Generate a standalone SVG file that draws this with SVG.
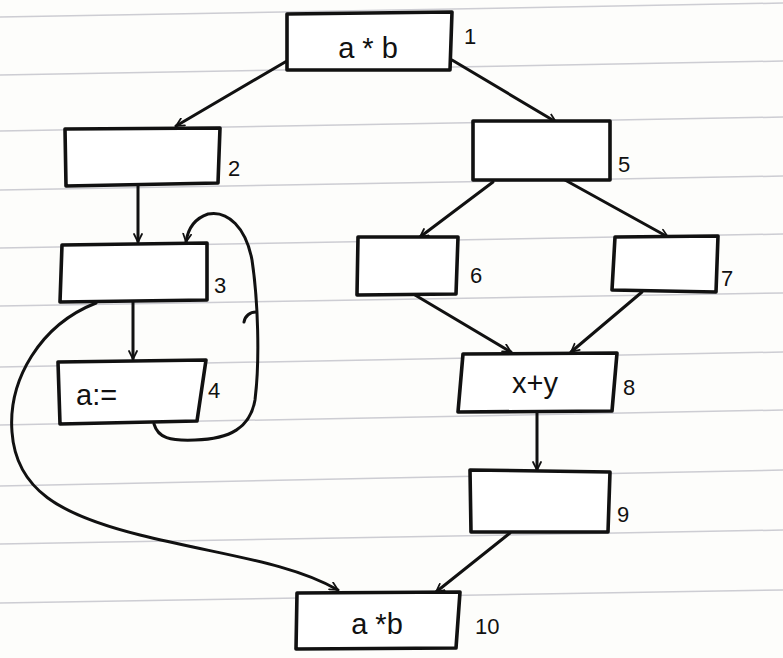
<svg xmlns="http://www.w3.org/2000/svg" width="783" height="658" viewBox="0 0 783 658">
<defs>
<style>
.box{fill:#ffffff;stroke:#111;stroke-width:3.6;stroke-linejoin:round}
.edge{fill:none;stroke:#111;stroke-width:3;stroke-linecap:round}
.txt{font-family:"Liberation Sans","DejaVu Sans",sans-serif;font-size:29px;fill:#111}
.lbl{font-family:"Liberation Sans","DejaVu Sans",sans-serif;font-size:22px;fill:#111}
.rule{stroke:#b4b4be;stroke-width:1.5;opacity:0.65}
</style>
<marker id="ah" viewBox="0 0 20 20" refX="18" refY="10" markerWidth="10" markerHeight="10" markerUnits="userSpaceOnUse" orient="auto">
<polyline points="2,2 18,10 2,18" fill="none" stroke="#111" stroke-width="3.5" stroke-linecap="round" stroke-linejoin="round"/>
</marker>
</defs>
<rect width="783" height="658" fill="#fdfdfb"/>
<g id="rules">
<line class="rule" x1="0" y1="17" x2="783" y2="3"/>
<line class="rule" x1="0" y1="75" x2="783" y2="61"/>
<line class="rule" x1="0" y1="131" x2="783" y2="117"/>
<line class="rule" x1="0" y1="190" x2="783" y2="176"/>
<line class="rule" x1="0" y1="248" x2="783" y2="234"/>
<line class="rule" x1="0" y1="306" x2="783" y2="293"/>
<line class="rule" x1="0" y1="367" x2="783" y2="352"/>
<line class="rule" x1="0" y1="425" x2="783" y2="410"/>
<line class="rule" x1="0" y1="486" x2="783" y2="470"/>
<line class="rule" x1="0" y1="544" x2="783" y2="530"/>
<line class="rule" x1="0" y1="603" x2="783" y2="590"/>
</g>
<g id="connectors">
<path class="edge" d="M292,58 L176,126" marker-end="url(#ah)"/>
<path class="edge" d="M452,60 L556,122" marker-end="url(#ah)"/>
<path class="edge" d="M138,186 L138,242" marker-end="url(#ah)"/>
<path class="edge" d="M133,302 L133,359" marker-end="url(#ah)"/>
<path class="edge" d="M154,424 C158,438 170,441 195,440 C230,439 250,428 255,400 C260,360 258,300 252,260 C246,228 228,210 208,214 C196,218 188,228 186,242" marker-end="url(#ah)"/>
<path class="edge" d="M244,322 C245,316 250,312 256,312"/>
<path class="edge" d="M96,303 C40,325 8,380 12,432 C16,490 60,515 140,535 C220,555 290,562 338,590" marker-end="url(#ah)"/>
<path class="edge" d="M493,182 L420,237" marker-end="url(#ah)"/>
<path class="edge" d="M565,180 L668,237" marker-end="url(#ah)"/>
<path class="edge" d="M415,295 L511,352" marker-end="url(#ah)"/>
<path class="edge" d="M642,292 L571,352" marker-end="url(#ah)"/>
<path class="edge" d="M537,412 L537,470" marker-end="url(#ah)"/>
<path class="edge" d="M510,533 L436,592" marker-end="url(#ah)"/>
</g>
<g id="node1">
<path class="box" d="M287,14 L452,12 L450,70 L287,70 Z"/>
<text class="txt" x="368" y="58" text-anchor="middle">a * b</text>
<text class="lbl" x="464" y="44">1</text>
</g>
<g id="node2">
<path class="box" d="M65,129 L220,128 L218,183 L66,186 Z"/>
<text class="lbl" x="228" y="176">2</text>
</g>
<g id="node3">
<path class="box" d="M62,245 L207,243 L207,300 L60,302 Z"/>
<text class="lbl" x="214" y="293">3</text>
</g>
<g id="node4">
<path class="box" d="M58,362 L206,360 L197,421 L60,424 Z"/>
<text class="txt" x="76" y="405">a:=</text>
<text class="lbl" x="208" y="398">4</text>
</g>
<g id="node5">
<path class="box" d="M473,121 L610,121 L610,180 L473,180 Z"/>
<text class="lbl" x="618" y="172">5</text>
</g>
<g id="node6">
<path class="box" d="M358,237 L458,237 L456,294 L357,295 Z"/>
<text class="lbl" x="470" y="283">6</text>
</g>
<g id="node7">
<path class="box" d="M615,237 L718,236 L716,292 L612,290 Z"/>
<text class="lbl" x="721" y="286">7</text>
</g>
<g id="node8">
<path class="box" d="M463,354 L617,353 L612,411 L458,412 Z"/>
<text class="txt" x="535" y="393" text-anchor="middle">x+y</text>
<text class="lbl" x="623" y="395">8</text>
</g>
<g id="node9">
<path class="box" d="M470,470 L610,472 L608,532 L471,532 Z"/>
<text class="lbl" x="617" y="522">9</text>
</g>
<g id="node10">
<path class="box" d="M297,593 L460,592 L456,648 L296,649 Z"/>
<text class="txt" x="377" y="634" text-anchor="middle">a *b</text>
<text class="lbl" x="475" y="634">10</text>
</g>
</svg>
